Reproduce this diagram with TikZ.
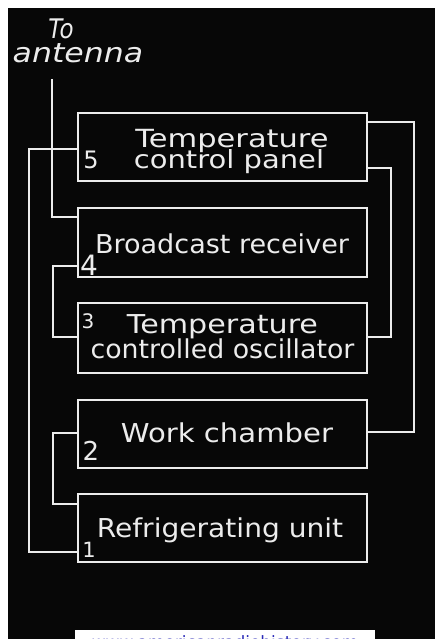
\documentclass[tikz,border=0pt]{standalone}
\usepackage{fontspec}
\setmainfont{DejaVu Sans}
\definecolor{ink}{HTML}{ECECEC}
\definecolor{bg}{HTML}{070707}
\definecolor{wmblue}{HTML}{2A2AB8}
\newcommand{\wx}[2]{\scalebox{#1}[1]{#2}}
\begin{document}
\begin{tikzpicture}[x=1pt,y=-1pt,
  box/.style={draw=ink, line width=2pt, minimum width=289pt, minimum height=68pt, inner sep=0pt},
  wire/.style={draw=ink, line width=1.2pt},
  lbl/.style={text=ink, anchor=base, inner sep=0pt, font=\fontsize{26}{28}\selectfont},
  lbltwo/.style={text=ink, anchor=north, inner sep=0pt, align=center},
  num/.style={text=ink, anchor=base, inner sep=0pt},
]
\useasboundingbox (0,0) rectangle (435,639);
\fill[white] (0,0) rectangle (435,639);
\fill[bg] (8,8) rectangle (435,639);

% boxes
\node[box] (b5) at (222.5,147) {};
\node[box, minimum height=69pt] (b4) at (222.5,242.5) {};
\node[box, minimum height=70pt] (b3) at (222.5,338) {};
\node[box] (b2) at (222.5,434) {};
\node[box] (b1) at (222.5,528) {};

% texts
\node[lbltwo, font={\fontsize{27}{24}\selectfont\itshape\lineskiplimit=-100pt}] (toant) at (78,18.5) {\wx{0.85}{To}\hspace*{34pt}\\\wx{1.17}{antenna}};
\node[lbltwo, font={\fontsize{25}{20.5}\selectfont\lineskiplimit=-100pt}] (t5) at (229,129.5) {\hspace*{6pt}\wx{1.22}{Temperature}\\\wx{1.16}{control panel}};
\node[lbl] (t4) at (222,253) {\wx{1.04}{Broadcast receiver}};
\node[lbltwo, font={\fontsize{26}{25}\selectfont\lineskiplimit=-100pt}] (t3) at (222.5,314) {\wx{1.16}{Temperature}\\\wx{1.03}{controlled oscillator}};
\node[lbl] (t2) at (227,442) {\wx{1.12}{Work chamber}};
\node[lbl] (t1) at (220,537) {\wx{1.08}{Refrigerating unit}};

\node[num, font=\fontsize{24}{24}\selectfont] (n5) at (91,168) {5};
\node[num, font=\fontsize{28}{28}\selectfont] (n4) at (89,275) {4};
\node[num, font=\fontsize{20}{20}\selectfont] (n3) at (88,328) {3};
\node[num, font=\fontsize{26}{26}\selectfont] (n2) at (91,460) {2};
\node[num, font=\fontsize{21}{21}\selectfont] (n1) at (89,557) {1};

% connectors
\coordinate (ant) at (52,79);
\draw[wire] (ant) |- ([yshift=-10pt]b4.north west);
\draw[wire] ([yshift=-2pt]b5.west) -- ++(-48,0) |- ([yshift=-24pt]b1.west);
\draw[wire] ([yshift=-23.5pt]b4.west) -- ++(-24,0) |- ([yshift=1pt]b3.west);
\draw[wire] ([yshift=1pt]b2.west) -- ++(-24,0) |- ([yshift=24pt]b1.west);
\draw[wire] ([yshift=25pt]b5.east) -- ++(46,0) |- ([yshift=2pt]b2.east);
\draw[wire] ([yshift=-21pt]b5.east) -- ++(23,0) |- ([yshift=1pt]b3.east);

% watermark strip
\begin{scope}
\clip (75,630) rectangle (375,639);
\fill[white] (75,630) rectangle (375,639);
\node[anchor=base, inner sep=0pt, text=wmblue, font=\fontsize{17}{17}\selectfont] (wm) at (225,648) {www.americanradiohistory.com};
\end{scope}
\end{tikzpicture}
\end{document}
